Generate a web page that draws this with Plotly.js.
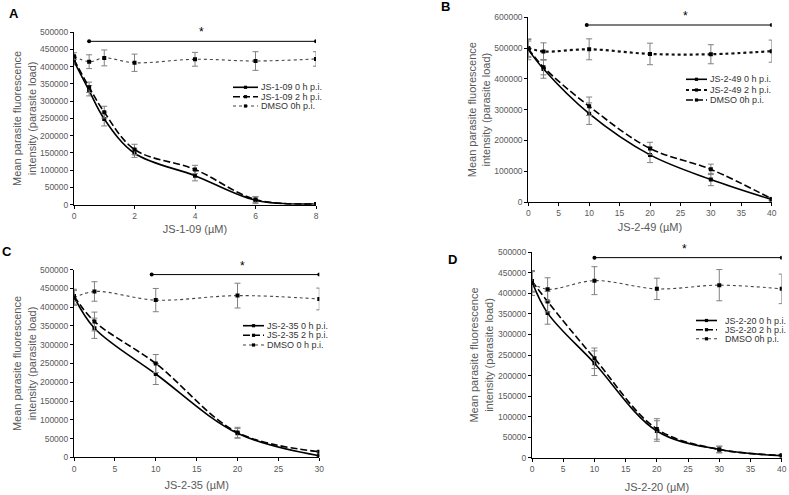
<!DOCTYPE html>
<html>
<head>
<meta charset="utf-8">
<script src="https://cdn.plot.ly/plotly-3.0.1.min.js"></script>
<style>html,body{margin:0;padding:0;background:#fff;}#chart{width:789px;height:495px;}</style>
</head>
<body>
<div id="chart"></div>
<script>
// ---------------- DATA ----------------
// Panel A : JS-1-09
const xA = [0, 0.5, 1, 2, 4, 6, 8];
const a0h = [415000, 330000, 248000, 149000, 84000, 13000, 2000];
const a0hErr = [10000, 15000, 20000, 12000, 15000, 10000, 1000];
const a2h = [420000, 340000, 268000, 160000, 102000, 15000, 2000];
const a2hErr = [10000, 15000, 17000, 15000, 12000, 8000, 1000];
const aDMSO = [430000, 414000, 425000, 411000, 421000, 416000, 422000];
const aDMSOErr = [10000, 20000, 23000, 25000, 20000, 27000, 21000];
const namesA = ["JS-1-09 0 h p.i.", "JS-1-09 2 h p.i.", "DMSO 0h p.i."];
const sigAx = [0.5, 8], sigAy = [473000, 473000], starA = [4.2, 473000];

// Panel B : JS-2-49
const xB = [0, 2.5, 10, 20, 30, 40];
const b0h = [495000, 432000, 287000, 153000, 73000, 8000];
const b0hErr = [33000, 30000, 35000, 25000, 20000, 5000];
const b2h = [500000, 489000, 496000, 481000, 480000, 490000];      // dotted (labelled "JS-2-49 2 h p.i.")
const b2hErr = [30000, 28000, 34000, 35000, 31000, 36000];
const bDMSO = [498000, 438000, 311000, 174000, 106000, 10000];     // dashed (labelled "DMSO 0h p.i.")
const bDMSOErr = [25000, 25000, 30000, 20000, 17000, 5000];
const namesB = ["JS-2-49 0 h p.i.", "JS-2-49 2 h p.i.", "DMSO 0h p.i."];
const sigBx = [9.6, 40], sigBy = [575000, 575000], starB = [25.9, 575000];

// Panel C : JS-2-35
const xC = [0, 2.5, 10, 20, 30];
const c0h = [428000, 344000, 222000, 64000, 4000];
const c0hErr = [20000, 27000, 28000, 13000, 2000];
const c2h = [430000, 362000, 250000, 66000, 15000];
const c2hErr = [15000, 25000, 24000, 14000, 3000];
const cDMSO = [425000, 442000, 419000, 431000, 422000];
const cDMSOErr = [20000, 26000, 31000, 33000, 29000];
const namesC = ["JS-2-35 0 h p.i.", "JS-2-35 2 h p.i.", "DMSO 0 h p.i."];
const sigCx = [9.5, 30], sigCy = [487000, 487000], starC = [20.6, 487000];

// Panel D : JS-2-20
const xD = [0, 2.5, 10, 20, 30, 40];
const d0h = [428000, 352000, 230000, 65000, 20000, 5000];
const d0hErr = [25000, 27000, 30000, 25000, 8000, 2000];
const d2h = [430000, 380000, 242000, 70000, 20000, 6000];
const d2hErr = [25000, 25000, 25000, 25000, 8000, 2000];
const dDMSO = [425000, 410000, 431000, 411000, 420000, 411000];
const dDMSOErr = [30000, 28000, 34000, 26000, 38000, 36000];
const namesD = ["JS-2-20 0 h p.i.", "JS-2-20 2 h p.i.", "DMSO 0h p.i."];
const sigDx = [10, 40], sigDy = [487000, 487000], starD = [24.5, 487000];

const xTitles = ["JS-1-09 (µM)", "JS-2-49 (µM)", "JS-2-35 (µM)", "JS-2-20 (µM)"];
const panelLetters = ["A", "B", "C", "D"];
const yTitle = "Mean parasite fluorescence<br>intensity (parasite load)";

// ---------------- STYLE / LAYOUT ----------------
const W = 789, H = 495;
const px = v => v / W, py = v => 1 - v / H;
const FONT = "Liberation Sans, Arial, sans-serif";
const GREY = "#595959";

const SOLID = {color: "#000", width: 1.6, dash: "solid", shape: "spline", smoothing: 1};
const DASH = {color: "#000", width: 1.6, dash: "7px,3px", shape: "spline", smoothing: 1};
const DOT = {color: "#444", width: 1.1, dash: "dot", shape: "spline", smoothing: 1};
const DOTB = {color: "#111", width: 2.2, dash: "dot", shape: "spline", smoothing: 1};

function errObj(arr) {
  return {type: "data", array: arr, visible: true, color: "#808080", thickness: 1, width: 3};
}
function series(x, y, err, line, name, xa, ya) {
  return {x: x, y: y, name: name, type: "scatter", mode: "lines+markers",
    line: line, marker: {color: "#000", size: 4, symbol: "square"},
    error_y: errObj(err), xaxis: xa, yaxis: ya, showlegend: false, hoverinfo: "skip"};
}
function sigTrace(x, y, xa, ya) {
  return {x: x, y: y, type: "scatter", mode: "lines+markers",
    line: {color: "#000", width: 1}, marker: {color: "#000", size: 4},
    xaxis: xa, yaxis: ya, showlegend: false, hoverinfo: "skip"};
}

const traces = [
  series(xA, a0h, a0hErr, SOLID, namesA[0], "x", "y"),
  series(xA, a2h, a2hErr, DASH, namesA[1], "x", "y"),
  series(xA, aDMSO, aDMSOErr, DOT, namesA[2], "x", "y"),
  sigTrace(sigAx, sigAy, "x", "y"),

  series(xB, b0h, b0hErr, SOLID, namesB[0], "x2", "y2"),
  series(xB, b2h, b2hErr, DOTB, namesB[1], "x2", "y2"),
  series(xB, bDMSO, bDMSOErr, DASH, namesB[2], "x2", "y2"),
  sigTrace(sigBx, sigBy, "x2", "y2"),

  series(xC, c0h, c0hErr, SOLID, namesC[0], "x3", "y3"),
  series(xC, c2h, c2hErr, DASH, namesC[1], "x3", "y3"),
  series(xC, cDMSO, cDMSOErr, DOT, namesC[2], "x3", "y3"),
  sigTrace(sigCx, sigCy, "x3", "y3"),

  series(xD, d0h, d0hErr, SOLID, namesD[0], "x4", "y4"),
  series(xD, d2h, d2hErr, DASH, namesD[1], "x4", "y4"),
  series(xD, dDMSO, dDMSOErr, DOT, namesD[2], "x4", "y4"),
  sigTrace(sigDx, sigDy, "x4", "y4")
];

// plot areas in pixels [x0, x1, yTop, yBottom]
const boxes = [
  [74, 316, 32, 204.7],
  [528.3, 771.7, 17.3, 202],
  [74, 319.3, 269.7, 457.3],
  [532, 781.7, 252.3, 457.7]
];
const xRanges = [[0, 8], [0, 40], [0, 30], [0, 40]];
const xDticks = [2, 5, 5, 5];
const yRanges = [[0, 500000], [0, 600000], [0, 500000], [0, 500000]];
const yDticks = [50000, 100000, 50000, 50000];
const xStandoff = [5, 6, 8, 10];
const yStandoff = [1, 1, 1, 2];

const layout = {
  width: W, height: H, margin: {l: 0, r: 0, t: 0, b: 0},
  paper_bgcolor: "#fff", plot_bgcolor: "rgba(0,0,0,0)",
  showlegend: false, font: {family: FONT, size: 9, color: GREY},
  shapes: [], annotations: []
};

boxes.forEach((b, i) => {
  const sx = i === 0 ? "" : String(i + 1);
  layout["xaxis" + sx] = {
    domain: [px(b[0]), px(b[1])], range: xRanges[i], dtick: xDticks[i], tick0: 0,
    anchor: "y" + sx, showgrid: false, zeroline: false, showline: true,
    linecolor: "#000", linewidth: 1, ticks: "outside", ticklen: 3, tickcolor: "#000",
    tickfont: {family: FONT, size: 8.5, color: GREY},
    title: {text: xTitles[i], font: {family: FONT, size: 11, color: GREY}, standoff: xStandoff[i]},
    automargin: false, fixedrange: true
  };
  layout["yaxis" + sx] = {
    domain: [py(b[3]), py(b[2])], range: yRanges[i], dtick: yDticks[i], tick0: 0,
    anchor: "x" + sx, showgrid: false, zeroline: false, showline: true,
    linecolor: "#000", linewidth: 1, ticks: "outside", ticklen: 3, tickcolor: "#000",
    tickformat: "d", tickfont: {family: FONT, size: 8.5, color: GREY},
    title: {text: yTitle, font: {family: FONT, size: 11, color: GREY}, standoff: yStandoff[i]},
    automargin: false, fixedrange: true
  };
});

// significance stars
[[starA, "x", "y"], [starB, "x2", "y2"], [starC, "x3", "y3"], [starD, "x4", "y4"]].forEach(s => {
  layout.annotations.push({x: s[0][0], y: s[0][1], xref: s[1], yref: s[2], text: "*",
    showarrow: false, yanchor: "bottom", yshift: 0, font: {family: FONT, size: 12, color: "#000"}});
});

// panel letters
const letterPos = [[14, 13.5], [445, 6.5], [7, 251.5], [452.5, 259.5]];
letterPos.forEach((p, i) => {
  layout.annotations.push({x: px(p[0]), y: py(p[1]), xref: "paper", yref: "paper", text: "<b>" + panelLetters[i] + "</b>",
    showarrow: false, xanchor: "center", yanchor: "middle", font: {family: FONT, size: 13, color: "#000"}});
});

// manual legends: [lineX0, lineX1, textX, rowY0, rowY1, rowY2]
const legendGeo = [
  [233, 258, 260, 87.3, 96.7, 106],
  [686, 707, 709, 79.3, 90, 100],
  [243, 264, 265.5, 325.7, 335.3, 345],
  [696, 717, 724, 320.5, 329.7, 338.8]
];
const legendStyles = [[SOLID, DASH, DOT], [SOLID, DOTB, DASH], [SOLID, DASH, DOT], [SOLID, DASH, DOT]];
const legendNames = [namesA, namesB, namesC, namesD];
legendGeo.forEach((g, i) => {
  for (let k = 0; k < 3; k++) {
    const st = legendStyles[i][k];
    const yy = g[3 + k];
    layout.shapes.push({type: "line", xref: "paper", yref: "paper",
      x0: px(g[0]), x1: px(g[1]), y0: py(yy), y1: py(yy),
      line: {color: st.color, width: st.width, dash: st.dash}});
    const mx = (g[0] + g[1]) / 2;
    layout.shapes.push({type: "rect", xref: "paper", yref: "paper",
      x0: px(mx - 1.6), x1: px(mx + 1.6), y0: py(yy + 1.6), y1: py(yy - 1.6),
      fillcolor: "#000", line: {width: 0}});
    layout.annotations.push({x: px(g[2]), y: py(yy), xref: "paper", yref: "paper",
      text: legendNames[i][k], showarrow: false, xanchor: "left", yanchor: "middle",
      borderpad: 0, font: {family: FONT, size: 9, color: "#333"}});
  }
});

Plotly.newPlot("chart", traces, layout, {staticPlot: true, displayModeBar: false});
</script>
</body>
</html>
